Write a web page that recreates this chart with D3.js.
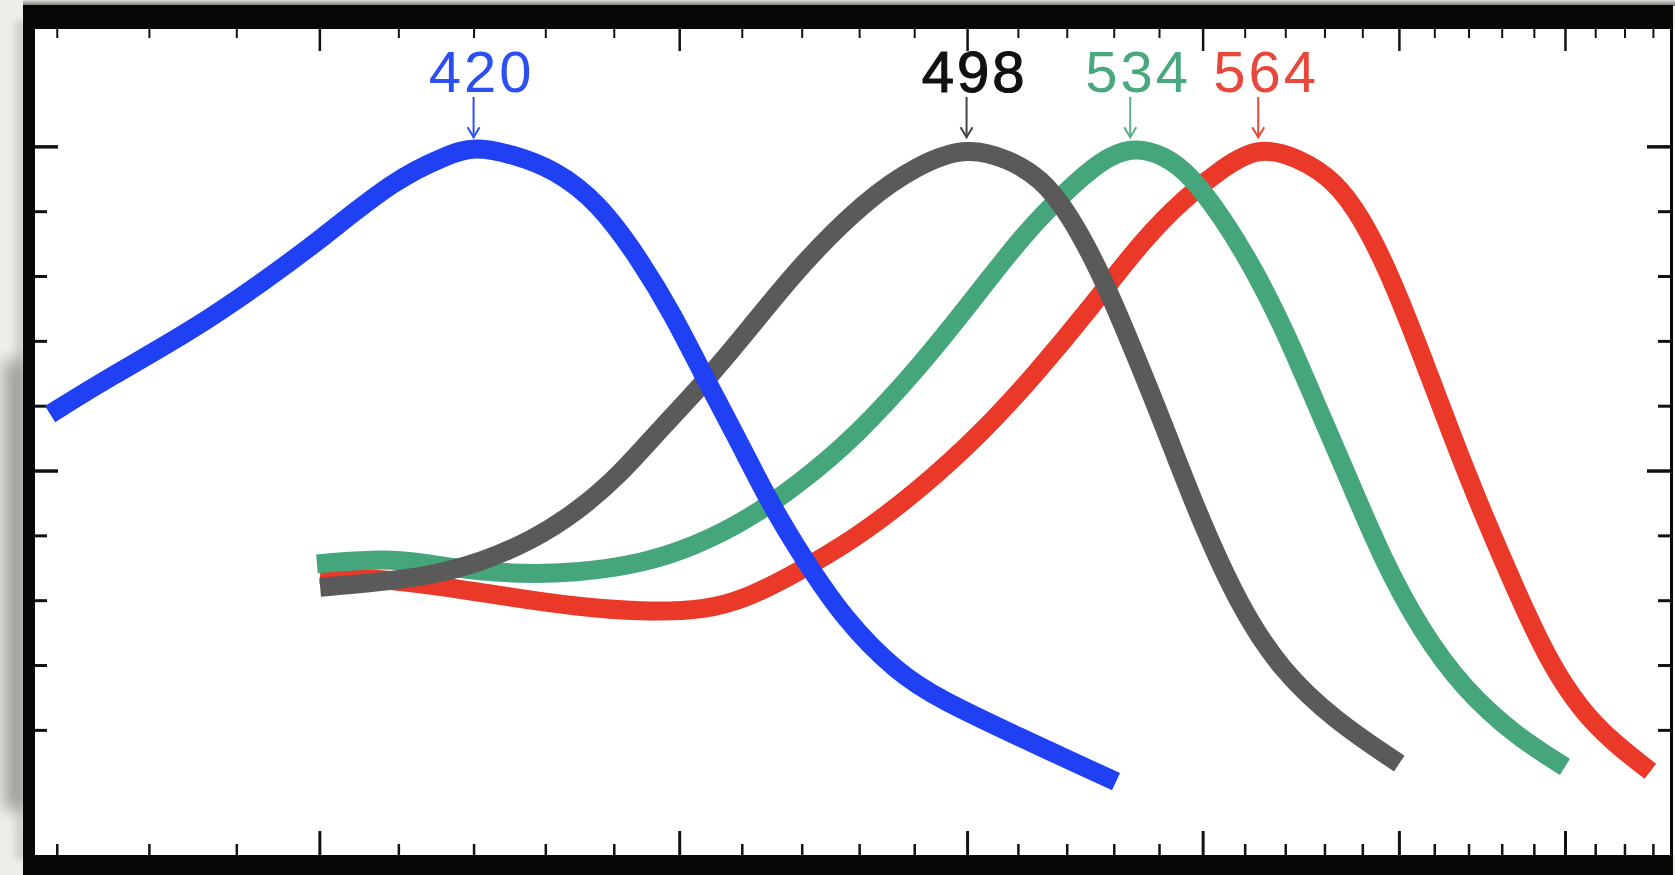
<!DOCTYPE html>
<html><head><meta charset="utf-8">
<script src="https://cdn.jsdelivr.net/npm/d3@7"></script>
<style>html,body{margin:0;padding:0;background:#efeee8;overflow:hidden}</style>
</head><body>
<svg id="chart" width="1675" height="875"></svg>
<script>
// ---- data (wavelength nm, relative absorbance) ----
const peakLabels = ["420", "498", "534", "564"];

const blueWl  = [369.3, 375.4, 384.9, 393.6, 400.1, 409.6, 416.6, 420.0, 425.4, 431.4, 437.7, 444.1, 449.0, 454.1, 459.2, 464.5, 469.9, 477.3, 486.9, 494.8, 509.4, 530.5];
const blueVal = [0.587, 0.642, 0.716, 0.795, 0.856, 0.950, 0.987, 1.000, 0.988, 0.964, 0.914, 0.823, 0.741, 0.642, 0.551, 0.452, 0.370, 0.271, 0.188, 0.147, 0.092, 0.020];

const grayWl  = [400.1, 406.8, 413.8, 421.0, 428.4, 434.5, 440.9, 447.4, 454.1, 461.0, 469.9, 481.1, 490.8, 499.9, 508.3, 514.8, 520.3, 527.1, 534.0, 541.2, 548.5, 558.7, 569.1, 582.8, 600.1];
const grayVal = [0.320, 0.327, 0.337, 0.358, 0.394, 0.436, 0.493, 0.568, 0.637, 0.716, 0.818, 0.917, 0.972, 1.000, 0.980, 0.950, 0.898, 0.807, 0.691, 0.568, 0.439, 0.290, 0.191, 0.114, 0.048];

const greenWl  = [399.7, 409.6, 416.6, 425.4, 434.5, 444.1, 452.4, 461.0, 469.9, 479.2, 490.8, 501.0, 511.5, 520.3, 527.1, 533.6, 541.2, 547.3, 554.8, 562.6, 570.5, 578.6, 587.1, 595.7, 606.1, 618.5, 634.7, 650.0];
const greenVal = [0.356, 0.366, 0.350, 0.340, 0.342, 0.356, 0.383, 0.424, 0.482, 0.551, 0.658, 0.762, 0.868, 0.934, 0.977, 1.000, 0.987, 0.955, 0.889, 0.807, 0.708, 0.592, 0.477, 0.361, 0.254, 0.163, 0.089, 0.043];

const redWl  = [400.1, 408.2, 416.6, 425.4, 434.5, 444.1, 454.1, 461.0, 468.1, 479.2, 490.8, 503.0, 513.7, 524.8, 536.4, 546.1, 554.8, 563.3, 573.2, 582.8, 589.9, 597.2, 606.1, 615.3, 624.8, 634.7, 644.8, 655.3, 666.0, 679.1];
const redVal = [0.340, 0.332, 0.320, 0.304, 0.290, 0.282, 0.284, 0.304, 0.337, 0.394, 0.469, 0.559, 0.650, 0.749, 0.856, 0.922, 0.967, 1.000, 0.983, 0.947, 0.889, 0.807, 0.683, 0.551, 0.427, 0.312, 0.205, 0.130, 0.081, 0.036];

// tick values
const xMajorNm = [400, 450, 500, 550, 600, 650];
const xMinorNm = [370, 380, 390, 410, 420, 430, 440, 460, 470, 480, 490, 510, 520, 530, 540, 560, 570, 580, 590, 610, 620, 630, 640, 660, 670, 680];
const yMajorVals = [0.5, 1.0];
const yMinorVals = [0.1, 0.2, 0.3, 0.4, 0.6, 0.7, 0.8, 0.9];

// ---- layout ----
const W = 1675, H = 875;
const inner = {l: 35, r: 1670, t: 29, b: 855};
const svg = d3.select("#chart");
const defs = svg.append("defs");

const x = d3.scaleLinear().domain([27195, 14574]).range([inner.l, inner.r]); // wavenumber cm^-1
const y = d3.scaleLinear().domain([-0.093, 1.181]).range([inner.b, inner.t]);
const wn = nm => 1e7 / nm;

// background
svg.append("rect").attr("width", W).attr("height", H).attr("fill", "#efeee8");
const blur = defs.append("filter").attr("id", "blur").attr("x", "-50%").attr("y", "-20%").attr("width", "200%").attr("height", "140%");
blur.append("feGaussianBlur").attr("stdDeviation", 8);
const blur2 = defs.append("filter").attr("id", "blur2").attr("x", "-50%").attr("y", "-20%").attr("width", "200%").attr("height", "140%");
blur2.append("feGaussianBlur").attr("stdDeviation", 3);
svg.append("rect").attr("x", 4).attr("y", 360).attr("width", 22).attr("height", 450)
  .attr("fill", "#6f6f6a").attr("opacity", 0.6).attr("filter", "url(#blur)");
svg.append("rect").attr("x", 15).attr("y", 20).attr("width", 10).attr("height", 840)
  .attr("fill", "#8d8d88").attr("opacity", 0.3).attr("filter", "url(#blur2)");
const tg = defs.append("linearGradient").attr("id", "topg").attr("x1", 0).attr("y1", 0).attr("x2", 0).attr("y2", 1);
tg.append("stop").attr("offset", "0%").attr("stop-color", "#dcdcd6");
tg.append("stop").attr("offset", "100%").attr("stop-color", "#6e6e6e");
svg.append("rect").attr("x", 23).attr("y", 0).attr("width", W - 23).attr("height", 6).attr("fill", "url(#topg)");

// frame
svg.append("rect").attr("x", 23).attr("y", 5).attr("width", 1650).attr("height", H - 5).attr("fill", "#070707");
svg.append("rect").attr("x", 1673).attr("y", 29).attr("width", 2).attr("height", 826).attr("fill", "#fafafa");
svg.append("rect").attr("x", inner.l).attr("y", inner.t).attr("width", inner.r - inner.l).attr("height", inner.b - inner.t).attr("fill", "#ffffff");

// axes ticks (inside)
function styleAxis(g, w) {
  g.select(".domain").remove();
  g.selectAll("line").attr("stroke", "#111").attr("stroke-width", w);
  g.selectAll("text").remove();
}
const gAx = svg.append("g");
gAx.append("g").attr("transform", `translate(0,${inner.b})`)
  .call(d3.axisTop(x).tickValues(xMinorNm.map(wn)).tickSize(11).tickFormat("")).call(g => styleAxis(g, 2.5));
gAx.append("g").attr("transform", `translate(0,${inner.b})`)
  .call(d3.axisTop(x).tickValues(xMajorNm.map(wn)).tickSize(24).tickFormat("")).call(g => styleAxis(g, 3));
gAx.append("g").attr("transform", `translate(0,${inner.t})`)
  .call(d3.axisBottom(x).tickValues(xMinorNm.map(wn)).tickSize(9).tickFormat("")).call(g => styleAxis(g, 2));
gAx.append("g").attr("transform", `translate(0,${inner.t})`)
  .call(d3.axisBottom(x).tickValues(xMajorNm.map(wn)).tickSize(22).tickFormat("")).call(g => styleAxis(g, 2.5));
gAx.append("g").attr("transform", `translate(${inner.l},0)`)
  .call(d3.axisRight(y).tickValues(yMinorVals).tickSize(12).tickFormat("")).call(g => styleAxis(g, 3));
gAx.append("g").attr("transform", `translate(${inner.l},0)`)
  .call(d3.axisRight(y).tickValues(yMajorVals).tickSize(23).tickFormat("")).call(g => styleAxis(g, 3.5));
gAx.append("g").attr("transform", `translate(${inner.r},0)`)
  .call(d3.axisLeft(y).tickValues(yMinorVals).tickSize(12).tickFormat("")).call(g => styleAxis(g, 3));
gAx.append("g").attr("transform", `translate(${inner.r},0)`)
  .call(d3.axisLeft(y).tickValues(yMajorVals).tickSize(23).tickFormat("")).call(g => styleAxis(g, 3.5));

// curves
const series = [
  {name: "564", data: d3.zip(redWl, redVal),   color: "#ea3829", label: "#e8473b", arrow: "#e8473b"},
  {name: "534", data: d3.zip(greenWl, greenVal), color: "#45a67b", label: "#4aa87f", arrow: "#5aae88"},
  {name: "498", data: d3.zip(grayWl, grayVal),  color: "#5a5a5a", label: "#111111", arrow: "#444444"},
  {name: "420", data: d3.zip(blueWl, blueVal),  color: "#1f41f3", label: "#2b4ff0", arrow: "#2b4ff0"}
];
const line = d3.line().x(d => x(wn(d[0]))).y(d => y(d[1])).curve(d3.curveBasis);
svg.append("g").selectAll("path").data(series).join("path")
  .attr("d", d => line(d.data)).attr("fill", "none").attr("stroke", d => d.color)
  .attr("stroke-width", 19).attr("stroke-linejoin", "round").attr("stroke-linecap", "butt");

// peak labels + arrows
const ann = svg.append("g");
series.forEach(s => {
  const pk = d3.greatest(s.data, d => d[1]);
  const px = x(wn(pk[0]));
  const tipY = y(pk[1]) - 9;
  ann.append("text").attr("x", px + 8).attr("y", 92).attr("text-anchor", "middle")
    .attr("font-family", "'Liberation Sans', Arial, sans-serif").attr("font-size", 58)
    .attr("letter-spacing", 3).attr("fill", s.label)
    .attr("stroke", s.name === "498" ? s.label : "none").attr("stroke-width", 1.2)
    .text(peakLabels.find(l => l === s.name));
  ann.append("line").attr("x1", px).attr("x2", px).attr("y1", 97).attr("y2", tipY)
    .attr("stroke", s.arrow).attr("stroke-width", 2);
  ann.append("path").attr("d", `M${px - 6},${tipY - 10}L${px},${tipY}L${px + 6},${tipY - 10}`)
    .attr("fill", "none").attr("stroke", s.arrow).attr("stroke-width", 2);
});
</script>
</body></html>
